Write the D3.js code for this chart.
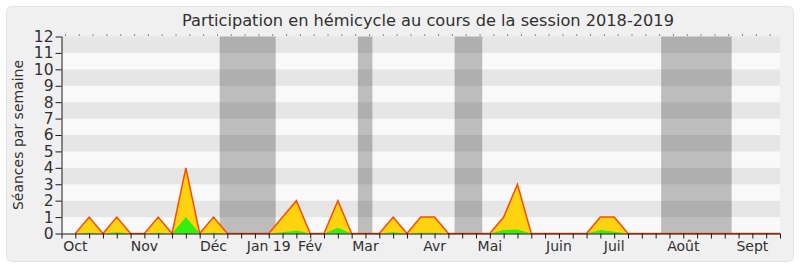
<!DOCTYPE html>
<html>
<head>
<meta charset="utf-8">
<script src="https://cdn.jsdelivr.net/npm/d3@7"></script>
<style>
  html, body { margin: 0; padding: 0; background: #ffffff; }
  svg { display: block; font-family: "DejaVu Sans", sans-serif; }
</style>
</head>
<body>
<svg id="chart" width="800" height="267"></svg>
<script>
// Week index (1 = first week of the session)
const weeks = d3.range(1, 53);

// Sessions attended per week (yellow area)
const seances = [
  0, 1, 0, 1, 0, 0, 1, 0, 4, 0,
  1, 0, 0, 0, 0, 1, 2, 0, 0, 2,
  0, 0, 0, 1, 0, 1, 1, 0, 0, 0,
  0, 1, 3, 0, 0, 0, 0, 0, 1, 1,
  0, 0, 0, 0, 0, 0, 0, 0, 0, 0,
  0, 0
];

// Sessions with an intervention per week (green area)
const interventions = [
  0, 0.05, 0, 0.08, 0, 0, 0.05, 0, 1, 0,
  0.05, 0, 0, 0, 0, 0.08, 0.18, 0, 0, 0.35,
  0, 0, 0, 0.08, 0, 0.05, 0.05, 0, 0, 0,
  0, 0.22, 0.24, 0, 0, 0, 0, 0, 0.22, 0.1,
  0, 0, 0, 0, 0, 0, 0, 0, 0, 0,
  0, 0
];

// Month labels and the week they sit on
const monthLabels = ["Oct", "Nov", "Déc", "Jan 19", "Fév", "Mar", "Avr", "Mai", "Juin", "Juil", "Août", "Sept"];
const monthWeeks = [1, 6, 11, 15, 18, 22, 27, 31, 36, 40, 45, 50];

// Parliamentary recess periods, in weeks
const recessStart = [11.45, 21.45, 28.45, 43.4];
const recessEnd = [15.5, 22.5, 30.45, 48.5];

const yTicks = d3.range(0, 13);

const svg = d3.select("#chart");
const plotLeft = 61.5, plotRight = 780, plotTop = 36.5, plotBottom = 233.5;

const x = d3.scaleLinear().domain([0, 52]).range([plotLeft, plotRight]);
const y = d3.scaleLinear().domain([0, 12]).range([plotBottom, plotTop]);

// Outer panel
svg.append("rect")
  .attr("x", 6.5).attr("y", 6.5)
  .attr("width", 787).attr("height", 255)
  .attr("rx", 5).attr("ry", 5)
  .attr("fill", "#f0f0f0")
  .attr("stroke", "#e2e2e2");

// Title
svg.append("text")
  .attr("x", 428).attr("y", 25.5)
  .attr("text-anchor", "middle")
  .attr("font-size", 16.2)
  .attr("fill", "#303030")
  .text("Participation en hémicycle au cours de la session 2018-2019");

// Horizontal background bands
svg.append("g").selectAll("rect")
  .data(yTicks.slice(0, 12))
  .join("rect")
  .attr("x", plotLeft)
  .attr("width", plotRight - plotLeft)
  .attr("y", d => y(d + 1))
  .attr("height", d => y(d) - y(d + 1))
  .attr("fill", d => d % 2 === 1 ? "#e6e6e6" : "#f9f9f9");

// Recess shading
svg.append("g").selectAll("rect")
  .data(recessStart.map((s, i) => [s, recessEnd[i]]))
  .join("rect")
  .attr("x", d => x(d[0]))
  .attr("width", d => x(d[1]) - x(d[0]))
  .attr("y", plotTop)
  .attr("height", plotBottom - plotTop)
  .attr("fill", "#000")
  .attr("fill-opacity", 0.24);

const rows = weeks.map((w, i) => ({ w, s: seances[i], v: interventions[i] }));

// Yellow area: sessions attended
svg.append("path")
  .datum(rows)
  .attr("fill", "#ffd30f")
  .attr("d", d3.area().x(d => x(d.w)).y0(y(0)).y1(d => y(d.s)));

// Green area: interventions
svg.append("path")
  .datum(rows)
  .attr("fill", "#33ee11")
  .attr("d", d3.area().x(d => x(d.w)).y0(y(0)).y1(d => y(d.v)));

// Outline of the attendance series
svg.append("path")
  .datum(rows)
  .attr("fill", "none")
  .attr("stroke", "#ff4a00")
  .attr("stroke-width", 1.5)
  .attr("stroke-linejoin", "miter")
  .attr("d", d3.line().x(d => x(d.w)).y(d => y(d.s)));

// Bottom axis with a tick every week
const xAxis = svg.append("g")
  .attr("transform", `translate(0,${plotBottom})`)
  .call(d3.axisBottom(x).tickValues(d3.range(0, 53)).tickSize(5).tickFormat(""));
xAxis.select(".domain").attr("stroke", "#1a1a1a").attr("d", `M${plotLeft},0.5H${plotRight}`);
xAxis.selectAll(".tick line").attr("stroke", "#1a1a1a");

// Small dots along the top edge
svg.append("g")
  .attr("transform", `translate(3.5,${plotTop - 1})`)
  .call(d3.axisTop(x).tickValues(d3.range(0, 52)).tickSize(1).tickFormat(""))
  .call(g => g.select(".domain").remove())
  .selectAll(".tick line").attr("stroke", "#222");

// Month labels
svg.append("g").selectAll("text")
  .data(monthLabels.map((m, i) => [m, monthWeeks[i]]))
  .join("text")
  .attr("x", d => x(d[1]))
  .attr("y", 251)
  .attr("text-anchor", "middle")
  .attr("font-size", 14)
  .attr("fill", "#303030")
  .text(d => d[0]);

// Left axis
const yAxis = svg.append("g")
  .attr("transform", `translate(${plotLeft},0)`)
  .call(d3.axisLeft(y).tickValues(yTicks).tickSize(6).tickPadding(2).tickFormat(d3.format("d")));
yAxis.select(".domain").attr("stroke", "#1a1a1a").attr("d", `M0.5,${plotTop}V${plotBottom}`);
yAxis.selectAll(".tick line").attr("stroke", "#1a1a1a");
yAxis.selectAll(".tick text")
  .attr("font-size", 15.5)
  .attr("font-family", "DejaVu Sans, sans-serif")
  .attr("fill", "#303030");

// Y axis title
svg.append("text")
  .attr("transform", `translate(23,${(plotTop + plotBottom) / 2}) rotate(-90)`)
  .attr("text-anchor", "middle")
  .attr("font-size", 14)
  .attr("fill", "#303030")
  .text("Séances par semaine");
</script>
</body>
</html>
